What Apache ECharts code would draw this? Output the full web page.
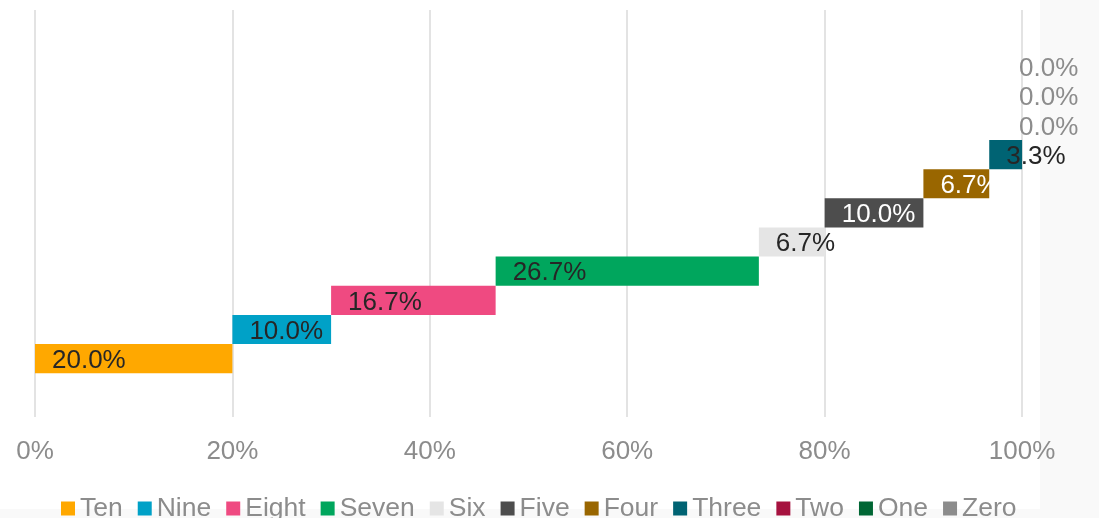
<!DOCTYPE html>
<html>
<head>
<meta charset="utf-8">
<script src="https://cdn.jsdelivr.net/npm/echarts@6/dist/echarts.min.js"></script>
<style>
  html, body { margin: 0; padding: 0; background: #fff; }
  #chart { width: 1099px; height: 518px; }
</style>
</head>
<body>
<div id="chart"></div>
<script>
// series names, bottom row first
var categories = ['Ten', 'Nine', 'Eight', 'Seven', 'Six', 'Five', 'Four', 'Three', 'Two', 'One', 'Zero'];
var shares = [20.0, 10.0, 16.67, 26.67, 6.67, 10.0, 6.67, 3.33, 0, 0, 0];
var colors = ['#FFA800', '#00A1C7', '#EF4A81', '#00A65D', '#E5E5E5', '#4D4D4D', '#996600', '#006373', '#A6123F', '#006634', '#8C8C8C'];
var labelColors = ['#262626', '#262626', '#262626', '#262626', '#262626', '#ffffff', '#ffffff', '#262626', '#8C8C8C', '#8C8C8C', '#8C8C8C'];
var tickValues = [0, 20, 40, 60, 80, 100];

var FONT = 'Liberation Sans';
var chartDom = document.getElementById('chart');
var myChart = echarts.init(chartDom);

// where each step starts
var offsets = [];
var run = 0;
shares.forEach(function (v) { offsets.push(run); run += v; });

var series = [{
  name: 'offset',
  type: 'bar',
  xAxisIndex: 1,
  yAxisIndex: 1,
  stack: 'steps',
  silent: true,
  clip: false,
  itemStyle: { color: 'transparent' },
  data: offsets
}];

categories.forEach(function (name, i) {
  var d = categories.map(function (c, j) { return j === i ? shares[i] : '-'; });
  series.push({
    name: name,
    type: 'bar',
    xAxisIndex: 1,
    yAxisIndex: 1,
    stack: 'steps',
    clip: false,
    barWidth: '100%',
    itemStyle: { color: colors[i] },
    label: {
      show: true,
      position: 'insideLeft',
      distance: shares[i] === 0 ? -3 : 17,
      offset: [0, 2],
      color: labelColors[i],
      fontFamily: FONT,
      fontSize: 26,
      formatter: function (p) { return p.value.toFixed(1) + '%'; }
    },
    data: d
  });
});

var option = {
  backgroundColor: '#ffffff',
  animation: false,
  graphic: [
    { type: 'rect', left: 1040, top: 0, z: -10, shape: { width: 59, height: 518 }, style: { fill: '#F9F9F9' } },
    { type: 'rect', left: 0, top: 509, z: -10, shape: { width: 1099, height: 9 }, style: { fill: '#F9F9F9' } }
  ],
  legend: {
    data: categories,
    left: 56,
    top: 490,
    icon: 'rect',
    itemWidth: 14,
    itemHeight: 14,
    itemGap: 15,
    textStyle: { color: '#8C8C8C', fontFamily: FONT, fontSize: 26.5 }
  },
  grid: [
    { left: 35, right: 77, top: 10, height: 407 },
    { left: 35, right: 77, top: 52.6, height: 320.6 }
  ],
  xAxis: [
    {
      type: 'value', gridIndex: 0, min: 0, max: 100, interval: 20,
      axisLine: { show: false }, axisTick: { show: false },
      splitLine: { lineStyle: { color: '#E3E3E3', width: 2 } },
      axisLabel: { margin: 22, color: '#8C8C8C', fontFamily: FONT, fontSize: 26, formatter: '{value}%' }
    },
    {
      type: 'value', gridIndex: 1, min: 0, max: 100, show: false
    }
  ],
  yAxis: [
    { type: 'value', gridIndex: 0, show: false },
    { type: 'category', gridIndex: 1, data: categories, show: false }
  ],
  series: series
};

option && myChart.setOption(option);
</script>
</body>
</html>
